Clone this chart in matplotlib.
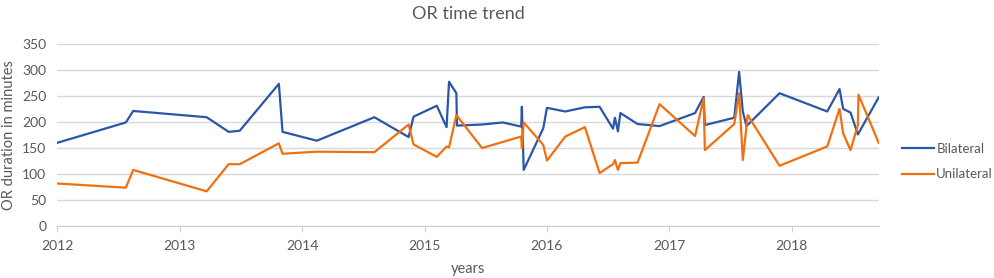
import matplotlib
matplotlib.use("Agg")
import matplotlib.pyplot as plt

# Data (x as fractional years)
bil_x = [2012.00, 2012.56, 2012.62, 2013.22, 2013.40, 2013.49, 2013.81, 2013.84, 2014.12, 2014.59,
         2014.87, 2014.91, 2015.10, 2015.18, 2015.20, 2015.26, 2015.265, 2015.47, 2015.64, 2015.79,
         2015.795, 2015.81, 2015.97, 2016.00, 2016.15, 2016.31, 2016.43, 2016.54, 2016.555, 2016.58,
         2016.60, 2016.74, 2016.92, 2017.21, 2017.28, 2017.29, 2017.53, 2017.57, 2017.60, 2017.63,
         2017.90, 2018.29, 2018.39, 2018.42, 2018.48, 2018.54, 2018.71]
bil_y = [160, 199, 221, 209, 181, 183, 273, 181, 164, 209,
         171, 210, 231, 190, 277, 255, 193, 195, 199, 191,
         229, 108, 188, 227, 220, 228, 229, 187, 208, 182,
         217, 196, 192, 217, 248, 194, 208, 296, 220, 192,
         255, 220, 263, 225, 218, 176, 247]

uni_x = [2012.00, 2012.56, 2012.62, 2013.22, 2013.40, 2013.49, 2013.81, 2013.84, 2014.12, 2014.59,
         2014.87, 2014.91, 2015.10, 2015.18, 2015.20, 2015.26, 2015.47, 2015.79, 2015.795, 2015.81,
         2015.97, 2016.00, 2016.15, 2016.31, 2016.43, 2016.54, 2016.555, 2016.58, 2016.60, 2016.74,
         2016.92, 2017.21, 2017.28, 2017.29, 2017.53, 2017.57, 2017.60, 2017.64, 2017.90, 2018.29,
         2018.39, 2018.42, 2018.48, 2018.54, 2018.545, 2018.71]
uni_y = [82, 74, 108, 67, 119, 119, 159, 139, 143, 142,
         195, 157, 133, 153, 151, 213, 150, 172, 150, 199,
         156, 126, 172, 190, 102, 119, 127, 108, 121, 122,
         234, 173, 245, 146, 196, 255, 127, 213, 116, 153,
         225, 178, 146, 194, 252, 160]

year_ticks = [2012, 2013, 2014, 2015, 2016, 2017, 2018]
y_ticks = [0, 50, 100, 150, 200, 250, 300, 350]

plt.rcParams['font.family'] = ['Lato', 'DejaVu Sans']
text_color = '#595959'

fig = plt.figure(figsize=(9.95, 2.78), dpi=100)
ax = fig.add_axes([0.0576, 0.186, 0.8255, 0.657])

ax.plot(bil_x, bil_y, color='#2a56a8', lw=1.6, label='Bilateral')
ax.plot(uni_x, uni_y, color='#f0700f', lw=1.6, label='Unilateral')

ax.set_xlim(2012, 2018.71)
ax.set_ylim(0, 350)
ax.set_xticks(year_ticks)
ax.set_xticklabels([str(y) for y in year_ticks])
ax.set_yticks(y_ticks)
ax.grid(axis='y', color='#d9d9d9', lw=1)
ax.set_axisbelow(True)

for side in ['top', 'right', 'left']:
    ax.spines[side].set_visible(False)
ax.spines['bottom'].set_color('#d0d0d0')
ax.tick_params(axis='x', colors=text_color, labelsize=10, length=4, color='#d0d0d0', pad=6)
ax.tick_params(axis='y', colors=text_color, labelsize=10, length=0, pad=8)

ax.set_title('OR time trend', fontsize=13, color=text_color, pad=18)
ax.set_xlabel('years', fontsize=10.5, color=text_color, labelpad=7)
# y label placed in figure coords so it stays inside the left edge
fig.text(0.0095, 0.513, 'OR duration in minutes', rotation=90, ha='center', va='center',
         fontsize=10.5, color=text_color)

ax.legend(loc='center left', bbox_to_anchor=(1.022, 0.355), borderaxespad=0, frameon=False,
          fontsize=9.5, labelcolor=text_color, handlelength=2.4, handletextpad=0.2,
          labelspacing=1.05)

fig.savefig('out.png', dpi=100)
